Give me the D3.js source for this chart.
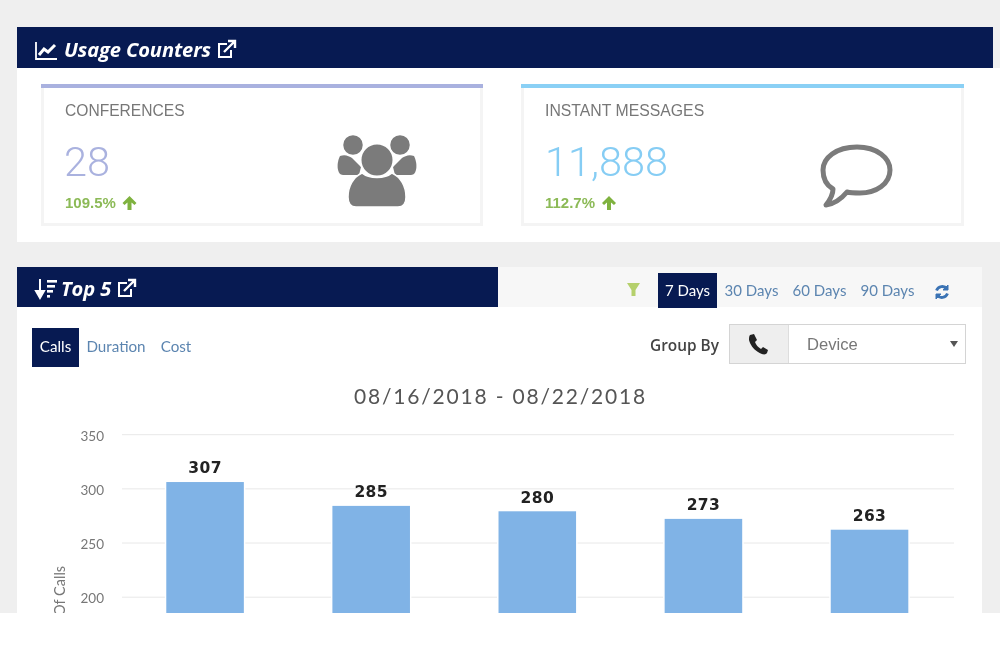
<!DOCTYPE html>
<html><head><meta charset="utf-8">
<script src="https://cdn.jsdelivr.net/npm/d3@7"></script>
<style>html,body{margin:0;padding:0;background:#fff;overflow:hidden}svg{display:block;filter:blur(.35px)}</style>
</head><body><svg id="c" width="1000" height="647"></svg>
<script>
const categories = ["Device 1","Device 2","Device 3","Device 4","Device 5"];
const callValues = [307,285,280,273,263];
const yTickValues = [200,250,300,350];
const rangeLabels = ["7 Days","30 Days","60 Days","90 Days"];
const metricLabels = ["Calls","Duration","Cost"];
const dateRange = "08/16/2018 - 08/22/2018";
const navy="#071a52", link="#5c85b0";
const svg=d3.select("#c");
const rect=(x,y,w,h,f,p=svg)=>p.append("rect").attr("x",x).attr("y",y).attr("width",w).attr("height",h).attr("fill",f);
const text=(s,x,y,o={},p=svg)=>{const t=p.append("text").attr("x",x).attr("y",y).text(s)
  .attr("font-family",o.font||"'Open Sans'").attr("font-size",o.size||14).attr("fill",o.fill||"#555")
  .attr("font-weight",o.weight||400).attr("font-style",o.style||"normal").attr("text-anchor",o.anchor||"start");
  if(o.ls)t.attr("letter-spacing",o.ls);return t;};
const icon=(x,y,s=1)=>svg.append("g").attr("transform",`translate(${x},${y}) scale(${s})`);

// page
rect(0,0,1000,613,"#efefef");
rect(17,68,983,174,"#fff");
rect(17,27,976,41,navy);
rect(17,267,965,346,"#fff");
rect(498,267,484,40,"#f7f7f7");
rect(17,267,481,40,navy);

// header 1
text("Usage Counters",64,57,{size:20.1,weight:700,style:"italic",fill:"#fff",ls:-.1});
let g=icon(35,42);
g.append("path").attr("d","M1 0V17H22").attr("fill","none").attr("stroke","#fff").attr("stroke-width",1.8);
g.append("path").attr("d","M4 13L9 7L13 10L20 3").attr("fill","none").attr("stroke","#fff").attr("stroke-width",3);
const ext=(x,y)=>{const e=icon(x,y);
  e.append("path").attr("d","M10 3H2V16H14V9").attr("fill","none").attr("stroke","#fff").attr("stroke-width",2);
  e.append("path").attr("d","M7 11L17 1M11 0H18V7").attr("fill","none").attr("stroke","#fff").attr("stroke-width",2.4);};
ext(217,41);

// cards
function card(x,w,color){
  rect(x,84,w,142,"#f4f4f4");rect(x+3,88,w-6,135,"#fff");rect(x,84,w,4,color);
}
card(41,442,"#a9b1df");card(521,443,"#8ad0f5");
text("CONFERENCES",65,116,{font:"'Liberation Sans'",size:15.6,fill:"#777"});
text("INSTANT MESSAGES",545,116,{font:"'Liberation Sans'",size:15.8,fill:"#777"});
text("28",64,176,{font:"Roboto",weight:300,size:41.5,fill:"#aab2df"});
text("11,888",545,176,{font:"Roboto",weight:300,size:41.5,fill:"#86cdf4"});
text("109.5%",65,208,{font:"'Liberation Sans'",weight:700,size:15,fill:"#8cba57"});
text("112.7%",545,208,{font:"'Liberation Sans'",weight:700,size:15,fill:"#8cba57"});
const up=(x,y)=>icon(x,y).append("path").attr("d","M7 0L14 7L12 9L9 6.4V14H5V6.4L2 9L0 7Z").attr("fill","#7fb23f");
up(122.5,196);up(602,196);

// people icon
g=icon(377,171).attr("fill","#7b7b7b");
g.append("path").attr("d","M-37,-15C-32,-17 -28,-15 -25,-13L-16,-4L-18,4H-34C-40,4 -41,-7 -37,-15Z");
g.append("path").attr("d","M37,-15C32,-17 28,-15 25,-13L16,-4L18,4H34C40,4 41,-7 37,-15Z");
[[-24,-26,10.5],[23,-26,10.5]].forEach(c=>g.append("circle").attr("cx",c[0]).attr("cy",c[1]).attr("r",c[2]).attr("stroke","#fff").attr("stroke-width",1.5));
g.append("path").attr("d","M-15,2C-8,8 8,8 15,2C24,6 29,16 29,26C29,32 26,36 21,36H-21C-26,36 -29,32 -29,26C-29,16 -24,6 -15,2Z").attr("stroke","#fff").attr("stroke-width",1.5);
g.append("circle").attr("cx",0).attr("cy",-11).attr("r",16.5).attr("stroke","#fff").attr("stroke-width",2);

// speech bubble
svg.append("path").attr("d","M857,147C877,147 890,158 890,170C890,184 876,193 860,193C855,193 851,193 847,192C842,198 835,204 826,205C830,200 833,195 833,189C826,185 823,178 823,170C823,158 836,147 857,147Z")
  .attr("fill","none").attr("stroke","#7b7b7b").attr("stroke-width",5).attr("stroke-linejoin","round");

// header 2
text("Top 5",61,296,{size:20.1,weight:700,style:"italic",fill:"#fff",ls:-.1});
g=icon(35,279);
g.append("path").attr("d","M5 0V15M1 12L5 19L9 12Z").attr("stroke","#fff").attr("stroke-width",2).attr("fill","#fff");
[[12,1,10],[12,6,8],[12,11,6],[12,16,3]].forEach(r=>rect(r[0],r[1],r[2],2.6,"#fff",g));
ext(117,280);

// filter & ranges
svg.append("path").attr("d","M627,283H640L635.5,290V296H631.5V290Z").attr("fill","#b5d06c");
rect(658,273,59,35,navy);
const rangeX=[687.5,751.5,819.5,887.5];
rangeLabels.forEach((s,i)=>text(s,rangeX[i],296,{font:"Lato",size:15,anchor:"middle",fill:i?link:"#fff"}));
g=icon(942,292).attr("fill","none").attr("stroke","#3b73b4").attr("stroke-width",2.8);
g.append("path").attr("d","M-5.5,-1.5A6,6 0 0 1 5,-3");
g.append("path").attr("d","M5.5,1.5A6,6 0 0 1 -5,3");
g.append("path").attr("d","M6,-7V-2H1Z").attr("fill","#3b73b4").attr("stroke-width",1);
g.append("path").attr("d","M-6,7V2H-1Z").attr("fill","#3b73b4").attr("stroke-width",1);

// metric tabs
rect(32,328,47,39,navy);
const metricX=[55.5,116,176];
metricLabels.forEach((s,i)=>text(s,metricX[i],352,{font:"Lato",size:15.2,anchor:"middle",fill:i?link:"#fff"}));

// group by
text("Group By",650,351,{size:15.4,weight:600,fill:"#444"});
rect(729,324,237,40,"#d4d4d4");rect(730,325,235,38,"#fff");rect(730,325,58,38,"#eee");rect(788,325,1,38,"#ddd");
text("Device",807,350,{font:"'Liberation Sans'",size:16.6,fill:"#777"});
svg.append("path").attr("d","M950,341H958L954,347Z").attr("fill","#555");
svg.append("path").attr("d","M750,335L754,334L757,340L755,342C756,345 758,347 761,349L763,347L768,350L767,353C766,355 762,355 758,352C753,349 750,344 749,340C749,338 749,336 750,335Z").attr("fill","#222");

// date title
text(dateRange,500.5,404,{font:"Lato",size:21,anchor:"middle",ls:1.8,fill:"#555"});

// chart
svg.append("clipPath").attr("id","clip").append("rect").attr("x",17).attr("y",420).attr("width",965).attr("height",193);
const chart=svg.append("g").attr("clip-path","url(#clip)");
const x=d3.scaleBand().domain(categories).range([122,952.6]).paddingInner(.524).paddingOuter(.262);
const y=d3.scaleLinear().domain([0,350]).range([813.9,434.7]);
const yAxis=d3.axisLeft(y).tickValues(yTickValues).tickSize(0).tickPadding(18);
const ax=chart.append("g").attr("transform","translate(122,0)").call(yAxis);
ax.select(".domain").remove();
ax.selectAll("text").attr("font-family","Lato").attr("font-size",13.5).attr("fill","#777").attr("dy","0.42em");
chart.append("g").selectAll("line").data(yTickValues).join("line")
  .attr("x1",122).attr("x2",954).attr("y1",d=>y(d)).attr("y2",d=>y(d)).attr("stroke","#e8e8e8").attr("stroke-width",1);
const rows=categories.map((c,i)=>({c,v:callValues[i]}));
chart.append("g").selectAll("rect").data(rows).join("rect")
  .attr("x",d=>x(d.c)).attr("y",d=>y(d.v)).attr("width",x.bandwidth()).attr("height",d=>y(0)-y(d.v))
  .attr("fill","#80b3e6").attr("stroke","#fff").attr("stroke-width",1.5);
chart.append("g").selectAll("text").data(rows).join("text")
  .attr("x",d=>x(d.c)+x.bandwidth()/2).attr("y",d=>y(d.v)-8).attr("text-anchor","middle").attr("letter-spacing",.4)
  .attr("font-family","'DejaVu Sans'").attr("font-weight",700).attr("font-size",15.5).attr("fill","#222").text(d=>d.v);
chart.append("text").attr("transform","translate(64.5,597) rotate(-90)").attr("text-anchor","middle")
  .attr("font-family","Lato").attr("font-size",14.5).attr("fill","#777").text("# Of Calls");
</script></body></html>
